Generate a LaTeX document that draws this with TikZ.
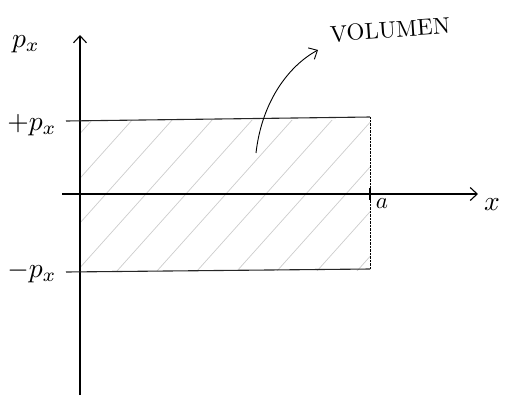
\documentclass[tikz,border=0pt]{standalone}
\usetikzlibrary{arrows.meta}
\begin{document}
\begin{tikzpicture}[x=1pt, y=-1pt, >={Straight Barb[length=7pt,width=13pt]}, line width=1.1pt,
		every node/.style={scale=2.3},
		axlabel/.style={scale=1.2},
		hatch/.style={gray!40, line width=0.7pt},
		bound/.style={black!85, line width=1.1pt}]
	\useasboundingbox (0,0) rectangle (509,405);
	% 1. 阴影区域 (最底层)
	\begin{scope}
		\clip (80,120) rectangle (370,270);
		\foreach \s in {-200,-160,...,440}
			\draw[hatch] (60+\s,290) -- (60+\s+170,100);
	\end{scope}
	
	% 2. 坐标轴与标签
	\coordinate (O) at (80,194);
	\coordinate (ybot) at (80,395);
	\coordinate (xleft) at (62,194);
	\draw[->] (ybot) -- (80,35) coordinate (ytip);
	\draw[->] (xleft) -- (478,194) coordinate (xtip);
	\node[axlabel] (xlab) at (492,205) {$x$};
	\node[axlabel] (plab) at (26,44) {$p_x$};
	\node[axlabel] (ptop) at (32,125) {$+p_x$};
	\node[axlabel] (pbot) at (32,272) {$-p_x$};
	
	% 3. 上下边界与虚线
	\coordinate (tl) at (66,121);
	\coordinate (tr) at (370,117);
	\coordinate (bl) at (66,272);
	\coordinate (br) at (370,269);
	\draw[bound] (tl) -- (tr);
	\draw[bound] (bl) -- (br);
	\draw[densely dotted, thin] (tr) -- (br);
	\draw (370,188) -- (370,200);
	\node (alab) at (382,204) {$a$};
	
	% 4. 体积标注
	\node[rotate=4] (vol) at (390,30) {VOLUMEN};
	\coordinate (arrfoot) at (256,153);
	\draw[->, line width=0.9pt] (arrfoot) .. controls (262,100) and (290,65) .. (318,50);
\end{tikzpicture}
\end{document}
